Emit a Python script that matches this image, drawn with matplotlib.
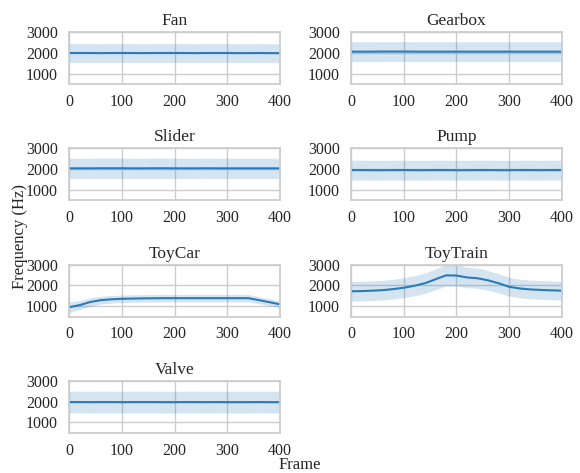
import numpy as np
import matplotlib
matplotlib.use('Agg')
import matplotlib.pyplot as plt
import seaborn as sns

# ─── Data ─────────────────────────────────────────────────────────────────────
machines = ['Fan', 'Gearbox', 'Slider', 'Pump', 'ToyCar', 'ToyTrain', 'Valve']
frames = [0, 20, 40, 60, 80, 100, 120, 140, 160, 180, 200,
          220, 240, 260, 280, 300, 320, 340, 360, 380, 400]

fan_mean = [2000, 2000, 2000, 1995, 2000, 2000, 2000, 1995, 2000, 2000, 2000,
            2000, 1995, 2000, 2000, 2000, 1995, 1995, 2000, 1995, 1995]
fan_std = [450, 450, 450, 450, 450, 450, 450, 450, 450, 450, 450,
           450, 450, 450, 450, 450, 450, 450, 450, 450, 450]

gearbox_mean = [2065, 2065, 2065, 2070, 2070, 2070, 2065, 2065, 2065, 2065, 2065,
                2065, 2065, 2065, 2065, 2065, 2065, 2065, 2065, 2065, 2065]
gearbox_std = [475, 475, 475, 475, 475, 475, 475, 475, 475, 475, 475,
               475, 475, 475, 475, 475, 475, 475, 475, 475, 475]

slider_mean = [2040, 2040, 2040, 2045, 2045, 2045, 2040, 2040, 2045, 2045, 2040,
               2040, 2040, 2045, 2040, 2040, 2040, 2040, 2040, 2040, 2040]
slider_std = [485, 485, 485, 485, 485, 485, 485, 485, 485, 485, 485,
              485, 485, 485, 485, 485, 485, 485, 485, 485, 485]

pump_mean = [1955, 1955, 1950, 1950, 1955, 1955, 1950, 1950, 1955, 1955, 1950,
             1950, 1955, 1955, 1950, 1950, 1955, 1955, 1950, 1955, 1955]
pump_std = [475, 475, 475, 475, 475, 475, 475, 475, 475, 475, 475,
            475, 475, 475, 475, 475, 475, 475, 475, 475, 475]

toycar_mean = [950, 1050, 1200, 1290, 1330, 1355, 1365, 1375, 1380, 1385, 1385,
               1385, 1385, 1385, 1385, 1385, 1385, 1385, 1290, 1190, 1090]
toycar_std = [250, 220, 200, 185, 180, 180, 180, 180, 180, 180, 180,
              180, 180, 180, 180, 180, 180, 180, 170, 165, 160]

toytrain_mean = [1715, 1725, 1745, 1770, 1820, 1885, 1980, 2100, 2290, 2480, 2470,
                 2380, 2340, 2240, 2100, 1930, 1850, 1805, 1780, 1760, 1745]
toytrain_std = [470, 470, 470, 470, 470, 480, 480, 490, 500, 515, 505,
                490, 480, 470, 460, 450, 450, 450, 450, 450, 450]

valve_mean = [1975, 1975, 1970, 1975, 1975, 1970, 1975, 1975, 1975, 1970, 1970,
              1975, 1975, 1970, 1975, 1970, 1970, 1970, 1975, 1970, 1970]
valve_std = [520, 520, 520, 520, 520, 520, 520, 520, 520, 520, 520,
             520, 520, 520, 520, 520, 520, 520, 520, 520, 520]

means = [fan_mean, gearbox_mean, slider_mean, pump_mean,
         toycar_mean, toytrain_mean, valve_mean]
stds = [fan_std, gearbox_std, slider_std, pump_std,
        toycar_std, toytrain_std, valve_std]

x_ticks = [0, 100, 200, 300, 400]
y_ticks = [1000, 2000, 3000]

# ─── Style ────────────────────────────────────────────────────────────────────
sns.set_theme(style='whitegrid')
plt.rcParams['font.family'] = ['Liberation Serif', 'DejaVu Serif']

LINE_C = '#2a7bba'
GREY = '#cccccc'

fig, axes = plt.subplots(4, 2, figsize=(5.8, 4.73), dpi=100)
fig.subplots_adjust(left=0.119, right=0.969, top=0.932, bottom=0.085,
                    wspace=0.336, hspace=1.23)

for i, name in enumerate(machines):
    ax = axes.flat[i]
    m = np.array(means[i])
    s = np.array(stds[i])
    ax.fill_between(frames, m - s, m + s, color=LINE_C, alpha=0.2, linewidth=0)
    ax.plot(frames, m, color=LINE_C, linewidth=1.5)
    ax.set_title(name, fontsize=12.5, pad=5)
    ax.set_xlim(0, 400)
    ax.set_ylim(500, 3000)
    ax.set_xticks(x_ticks)
    ax.set_yticks(y_ticks)
    ax.tick_params(axis='both', labelsize=11.5, length=0)
    ax.tick_params(axis='x', pad=7)
    ax.tick_params(axis='y', pad=8)
    for sp in ax.spines.values():
        sp.set_color(GREY)
        sp.set_linewidth(1.25)
    ax.grid(True, color=GREY, linewidth=1)

axes[3, 1].remove()

fig.text(300 / 580, 1 - 465 / 473, 'Frame', ha='center', va='center', fontsize=12)
fig.text(20 / 580, 0.5, 'Frequency (Hz)', ha='center', va='center',
         rotation=90, fontsize=12)

fig.savefig('out.png', dpi=100)
